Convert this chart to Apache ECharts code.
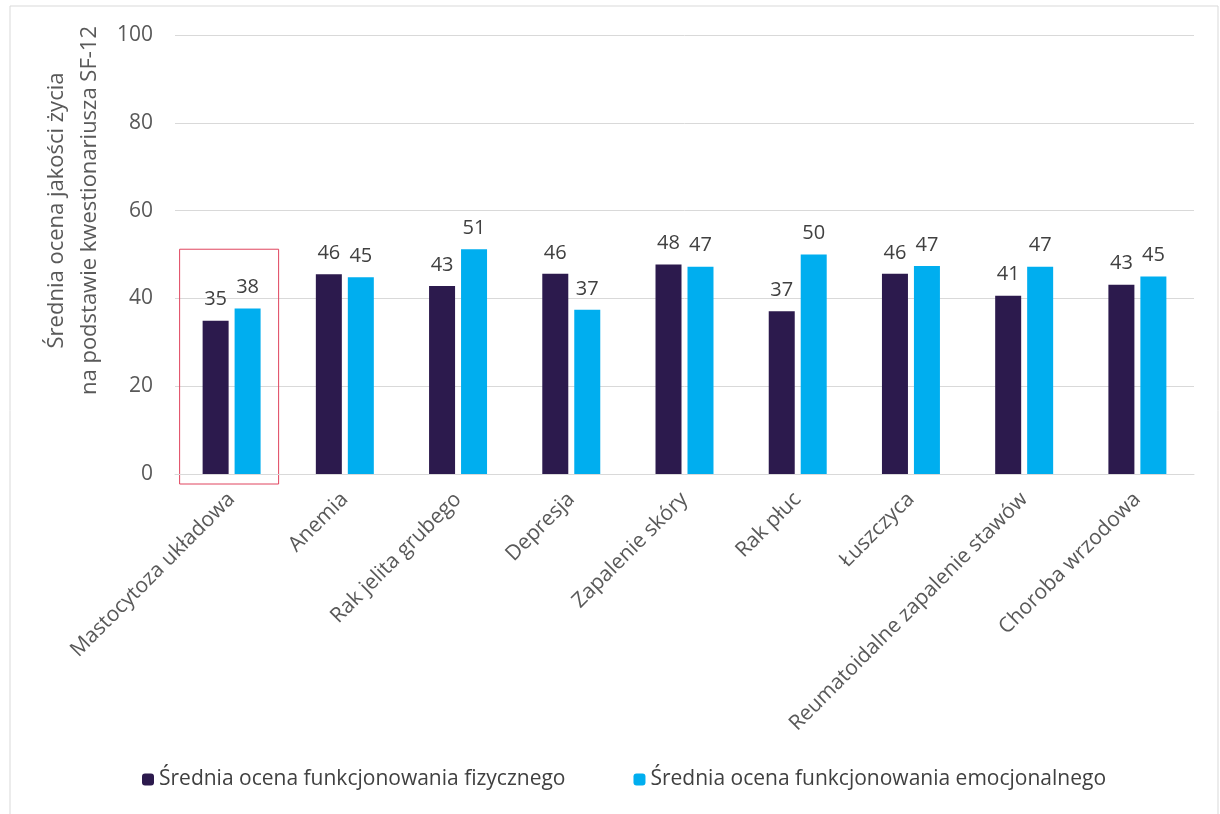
<!DOCTYPE html>
<html><head><meta charset="utf-8">
<script src="https://cdn.jsdelivr.net/npm/echarts@6/dist/echarts.min.js"></script>
<style>html,body{margin:0;padding:0;background:#fff}#c{width:1220px;height:814px}</style>
</head><body><div id="c"></div>
<script>
const categories = ['Mastocytoza układowa','Anemia','Rak jelita grubego','Depresja','Zapalenie skóry','Rak płuc','Łuszczyca','Reumatoidalne zapalenie stawów','Choroba wrzodowa'];
const physical = [34.9, 45.5, 42.8, 45.6, 47.7, 37.1, 45.6, 40.6, 43.1];
const emotional = [37.7, 44.8, 51.2, 37.4, 47.2, 50.0, 47.4, 47.2, 45.0];
const seriesNames = ['Średnia ocena funkcjonowania fizycznego','Średnia ocena funkcjonowania emocjonalnego'];
const yAxisTitle = 'Średnia ocena jakości życia\nna podstawie kwestionariusza SF-12';

const FONT = 'Open Sans';
const chart = echarts.init(document.getElementById('c'));
const labelCfg = {show:true, position:'top', distance:11, color:'#404040', fontFamily:FONT, fontSize:20,
  formatter: p => Math.round(p.value)};
chart.setOption({
  animation:false,
  textStyle:{fontFamily:FONT},
  grid:{left:175, right:26, top:35, bottom:340, containLabel:false},
  legend:{bottom:19, left:137, itemWidth:12, itemHeight:12, itemGap:68,
    textStyle:{color:'#404040', fontSize:21, fontFamily:FONT},
    data:seriesNames},
  xAxis:{type:'category', data:categories,
    axisLine:{lineStyle:{color:'#d9d9d9'}}, axisTick:{show:false},
    axisLabel:{interval:0, rotate:45, color:'#595959', fontSize:21, fontFamily:FONT, margin:22}},
  yAxis:{type:'value', min:0, max:100, interval:20,
    name:yAxisTitle, nameLocation:'middle', nameGap:62, nameRotate:90,
    nameTextStyle:{color:'#595959', fontSize:22, fontFamily:FONT, lineHeight:33, padding:[0,0,0,88]},
    axisLine:{show:false}, axisTick:{show:false},
    axisLabel:{color:'#595959', fontSize:21, fontFamily:FONT, margin:22},
    splitLine:{lineStyle:{color:'#d9d9d9', width:1}}},
  series:[
    {name:seriesNames[0], type:'bar', data:physical, barWidth:26, barGap:'23%', itemStyle:{color:'#2c1a4d'}, label:labelCfg},
    {name:seriesNames[1], type:'bar', data:emotional, barWidth:26, barGap:'23%', itemStyle:{color:'#00aeef'}, label:labelCfg}
  ]
});
const cx = chart.convertToPixel({xAxisIndex:0}, categories[0]);
const yTop = chart.convertToPixel({yAxisIndex:0}, 51.2);
const yBot = chart.convertToPixel({yAxisIndex:0}, 0) + 10;
chart.setOption({graphic:[
  {type:'rect', shape:{x:10, y:6, width:1208, height:830}, style:{fill:'none', stroke:'#d9d9d9', lineWidth:1}, silent:true},
  {type:'rect', shape:{x:cx-52, y:yTop, width:99, height:yBot-yTop}, style:{fill:'none', stroke:'#e0445e', lineWidth:1}, silent:true}
]});
</script></body></html>
